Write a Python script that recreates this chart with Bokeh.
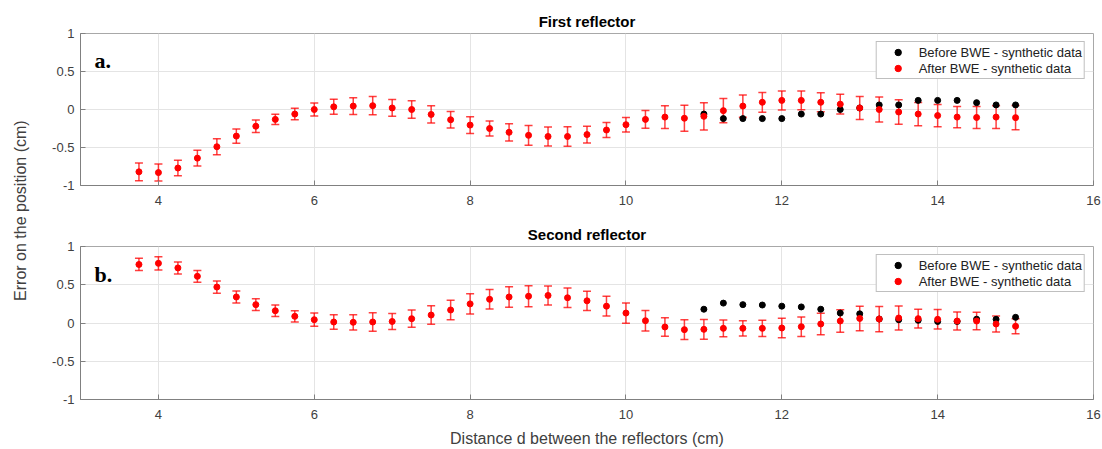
#Error on the reflector positions before and after BWE

import math
from bokeh.plotting import figure
from bokeh.models import (ColumnDataSource, Whisker, TeeHead, Legend, LegendItem,
                          FixedTicker, Label, Range1d)
from bokeh.layouts import row, column
from bokeh.core.properties import value
from bokeh.embed import file_html
from bokeh.resources import INLINE

#Distances (cm)

dist = [3.75, 4.0, 4.25, 4.5, 4.75, 5.0, 5.25, 5.5, 5.75, 6.0, 6.25, 6.5, 6.75, 7.0,
        7.25, 7.5, 7.75, 8.0, 8.25, 8.5, 8.75, 9.0, 9.25, 9.5, 9.75, 10.0, 10.25,
        10.5, 10.75, 11.0, 11.25, 11.5, 11.75, 12.0, 12.25, 12.5, 12.75, 13.0, 13.25,
        13.5, 13.75, 14.0, 14.25, 14.5, 14.75, 15.0]

dist_before = [11.0, 11.25, 11.5, 11.75, 12.0, 12.25, 12.5, 12.75, 13.0, 13.25,
               13.5, 13.75, 14.0, 14.25, 14.5, 14.75, 15.0]

#First reflector

first_after = [-0.82, -0.83, -0.77, -0.64, -0.49, -0.35, -0.22, -0.13, -0.06, 0.0,
               0.035, 0.045, 0.05, 0.02, 0.0, -0.065, -0.135, -0.205, -0.25, -0.30,
               -0.34, -0.355, -0.355, -0.33, -0.27, -0.20, -0.13, -0.10, -0.115, -0.09,
               -0.015, 0.045, 0.095, 0.12, 0.12, 0.095, 0.07, 0.02, 0.0, -0.033,
               -0.06, -0.08, -0.10, -0.105, -0.10, -0.107]

first_err = [0.116, 0.112, 0.103, 0.103, 0.105, 0.094, 0.081, 0.068, 0.075, 0.086,
             0.099, 0.11, 0.12, 0.11, 0.116, 0.114, 0.11, 0.11, 0.10, 0.114,
             0.13, 0.125, 0.127, 0.11, 0.10, 0.096, 0.116, 0.15, 0.17, 0.18,
             0.16, 0.147, 0.13, 0.125, 0.123, 0.125, 0.13, 0.15, 0.165, 0.16,
             0.153, 0.147, 0.14, 0.145, 0.15, 0.16]

first_before = [-0.06, -0.12, -0.12, -0.12, -0.12, -0.06, -0.06, 0.0, 0.02, 0.06,
                0.06, 0.12, 0.12, 0.12, 0.09, 0.06, 0.06]

#Second reflector

second_after = [0.765, 0.78, 0.72, 0.61, 0.47, 0.34, 0.24, 0.16, 0.087, 0.043,
                0.013, 0.009, 0.013, 0.02, 0.056, 0.104, 0.17, 0.25, 0.31, 0.34,
                0.35, 0.36, 0.33, 0.29, 0.22, 0.13, 0.03, -0.052, -0.087, -0.083,
                -0.07, -0.07, -0.07, -0.065, -0.048, -0.013, 0.026, 0.06, 0.052, 0.065,
                0.057, 0.048, 0.026, 0.026, -0.013, -0.043]

second_err = [0.08, 0.087, 0.078, 0.076, 0.08, 0.078, 0.076, 0.074, 0.074, 0.087,
              0.095, 0.10, 0.12, 0.105, 0.113, 0.12, 0.128, 0.133, 0.128, 0.133,
              0.137, 0.125, 0.126, 0.126, 0.13, 0.133, 0.133, 0.122, 0.13, 0.128,
              0.11, 0.10, 0.107, 0.128, 0.128, 0.14, 0.148, 0.16, 0.165, 0.157,
              0.122, 0.128, 0.117, 0.115, 0.104, 0.098]

second_before = [0.18, 0.26, 0.24, 0.235, 0.22, 0.21, 0.18, 0.13, 0.12, 0.052,
                 0.043, 0.035, 0.02, 0.02, 0.05, 0.048, 0.074]

x_ticks = [4, 6, 8, 10, 12, 14, 16]
y_ticks = [-1, -0.5, 0, 0.5, 1]
y_tick_labels = {-1: "-1", -0.5: "-0.5", 0: "0", 0.5: "0.5", 1: "1"}

SANS = "Liberation Sans"

#Build one panel

def make_panel(title, tag, after, err, before, height, top, bottom, xlabel=None):
    plot = figure(width=1062, height=height, x_range=Range1d(3, 16), y_range=Range1d(-1, 1),
                  output_backend="svg", toolbar_location=None,
                  min_border_left=40, min_border_right=9,
                  min_border_top=top, min_border_bottom=bottom,
                  background_fill_color="white", border_fill_color="white")

    plot.title.text = title
    plot.title.align = "center"
    plot.title.text_font = SANS
    plot.title.text_font_size = "15px"
    plot.title.text_font_style = "bold"
    plot.title.text_color = "#000000"
    plot.title.standoff = 7

    plot.xaxis.ticker = FixedTicker(ticks=x_ticks)
    plot.yaxis.ticker = FixedTicker(ticks=y_ticks)
    plot.yaxis.major_label_overrides = y_tick_labels
    plot.axis.major_tick_in = 5
    plot.axis.major_tick_out = 0
    plot.axis.minor_tick_in = 0
    plot.axis.minor_tick_out = 0
    plot.axis.axis_line_color = "#808080"
    plot.axis.major_tick_line_color = "#808080"
    plot.axis.major_label_text_font = SANS
    plot.axis.major_label_text_font_size = "13px"
    plot.axis.major_label_text_color = "#404040"
    plot.xaxis.major_label_standoff = 10
    plot.yaxis.major_label_standoff = 6
    if xlabel:
        plot.xaxis.axis_label = xlabel
        plot.xaxis.axis_label_text_font = SANS
        plot.xaxis.axis_label_text_font_size = "16px"
        plot.xaxis.axis_label_text_font_style = "normal"
        plot.xaxis.axis_label_text_color = "#404040"
        plot.xaxis.axis_label_standoff = 8

    plot.grid.grid_line_color = "#e4e4e4"
    plot.outline_line_color = "#a8a8a8"

    #Before BWE points

    black = plot.scatter(dist_before, before, size=6, color="black")

    #After BWE points with error bars

    source = ColumnDataSource(data=dict(
        x=dist, y=after,
        upper=[a + e for a, e in zip(after, err)],
        lower=[a - e for a, e in zip(after, err)]))

    whisk = Whisker(source=source, base="x", upper="upper", lower="lower",
                    line_color="red", line_width=1.5, line_alpha=0.75,
                    upper_head=TeeHead(size=8, line_color="red", line_width=1.5, line_alpha=0.75),
                    lower_head=TeeHead(size=8, line_color="red", line_width=1.5, line_alpha=0.75))
    plot.add_layout(whisk)

    red = plot.scatter("x", "y", source=source, size=6, color="red")

    legend = Legend(items=[LegendItem(label="Before BWE - synthetic data", renderers=[black]),
                           LegendItem(label="After BWE - synthetic data", renderers=[red])],
                    location="top_right", margin=8, padding=2, spacing=0,
                    glyph_width=38, glyph_height=16, label_height=16, label_standoff=2,
                    label_text_font=SANS, label_text_font_size="13px",
                    label_text_color="#222222",
                    border_line_color="#808080", background_fill_color="white",
                    background_fill_alpha=1)
    plot.add_layout(legend)

    plot.add_layout(Label(x=3.18, y=0.64, text=tag, text_font="Liberation Serif",
                          text_font_size="22px", text_font_style="bold",
                          text_color="#000000", text_baseline="alphabetic"))
    return plot

top_plot = make_panel("First reflector", "a.", first_after, first_err, first_before,
                      height=218, top=33, bottom=33)

bottom_plot = make_panel("Second reflector", "b.", second_after, second_err, second_before,
                         height=231, top=28, bottom=50,
                         xlabel="Distance d between the reflectors (cm)")

#Shared y axis label

label_plot = figure(width=40, height=449, x_range=Range1d(0, 1), y_range=Range1d(0, 1),
                    output_backend="svg", toolbar_location=None, min_border=0,
                    outline_line_color=None, border_fill_color="white")
label_plot.axis.visible = False
label_plot.grid.visible = False
label_plot.text(x=[0.5], y=[0.532], text=["Error on the position (cm)"], angle=math.pi / 2,
                text_align="center", text_baseline="middle",
                text_font=value(SANS), text_font_size=value("16px"), text_color="#404040")

layout = row(label_plot, column(top_plot, bottom_plot))

open("out.html", "w").write(file_html(layout, INLINE))
